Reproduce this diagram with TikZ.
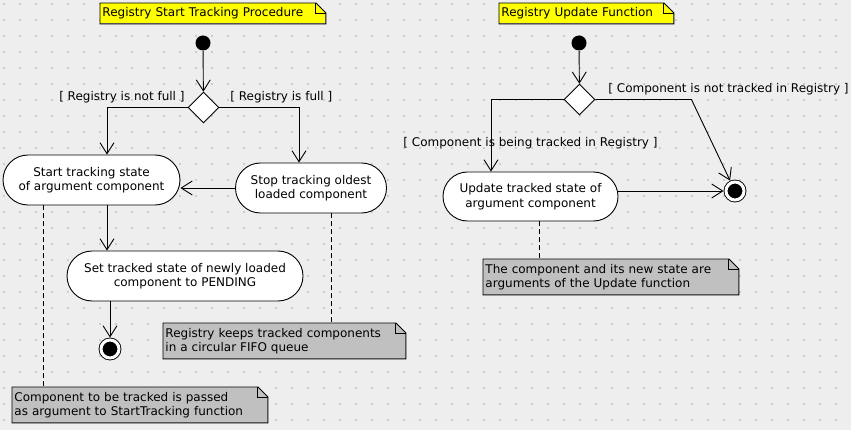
\documentclass[tikz,border=0pt]{standalone}
\usepackage{fontspec}
\setmainfont{DejaVu Sans}
\usetikzlibrary{shapes.geometric, shapes.misc, arrows.meta}

\definecolor{bggray}{HTML}{EEEEEE}
\definecolor{dotgray}{HTML}{CCCCCC}
\definecolor{noteyellow}{HTML}{FFFF00}
\definecolor{notegray}{HTML}{C0C0C0}

\tikzset{
  action/.style={rounded rectangle, draw, fill=white, align=center, inner sep=0pt},
  decision/.style={diamond, draw, fill=white, minimum width=31pt, minimum height=31pt, inner sep=0pt},
  initial/.style={circle, fill=black, minimum size=15pt, inner sep=0pt},
  final/.style={circle, draw, fill=black, double=white, double distance=3pt, minimum size=18pt, inner sep=0pt, outer sep=2.5pt},
  guard/.style={inner sep=0pt},
  note/.style={fill=#1, anchor=north west, align=left, inner sep=2pt, minimum height=35pt},
  link/.style={dashed, dash pattern=on 5pt off 3pt},
}

\begin{document}
\begin{tikzpicture}[x=1pt, y=-1pt, line width=0.9pt, >={Straight Barb[length=11pt, width=14pt]},
  every node/.style={font=\fontsize{12}{14.5}\selectfont}]

  % background with dot grid
  \fill[bggray] (0,0) rectangle (851,430);
  \foreach \i in {0,...,52}
    \foreach \j in {0,...,26}
      \fill[dotgray] (3+16*\i,3+16*\j) rectangle ++(2,2);

  % Start tracking procedure
  \node[note=noteyellow, minimum height=20pt, text width=221pt] (title1) at (100,3) {Registry Start Tracking Procedure};
  \node[initial] (start1) at (203,43) {};
  \node[decision] (dec1) at (203.5,107.5) {};
  \node[action, minimum width=177pt, minimum height=50pt] (track) at (91.5,180) {Start tracking state\\of argument component};
  \node[action, minimum width=151pt, minimum height=50pt] (stop) at (311,188) {Stop tracking oldest\\loaded component};
  \node[action, minimum width=236pt, minimum height=50pt] (set) at (185,276) {Set tracked state of newly loaded\\component to PENDING};
  \node[final] (final1) at (110,349) {};
  \node[note=notegray, text width=238pt] (note2) at (163,323) {Registry keeps tracked components\\in a circular FIFO queue};
  \node[note=notegray, text width=251pt] (note1) at (12,387) {Component to be tracked is passed\\as argument to StartTracking function};

  % guards
  \node[guard, anchor=east] (gnotfull) at (185,97) {[ Registry is not full ]};
  \node[guard, anchor=west] (gfull) at (230,97) {[ Registry is full ]};

  \draw[->] (start1) -- (dec1);
  \draw[->] (dec1.west) -| ([xshift=15.5pt]track.north);
  \draw[->] (dec1.east) -| ([xshift=-12pt]stop.north);
  \draw[->] (stop.west) -- (track.east |- stop.west);
  \draw[->] ([xshift=15.5pt]track.south) -- ([xshift=15.5pt]track.south |- set.north);
  \draw[->] (final1 |- set.south) -- (final1);
  \draw[link] ([xshift=20pt]stop.south) -- ([xshift=20pt]stop.south |- note2.north);
  \draw[link] ([xshift=-48.5pt]track.south) -- ([xshift=-48.5pt]track.south |- note1.north);

  % Update function
  \node[note=noteyellow, minimum height=20pt, text width=170pt] (title2) at (499,3) {Registry Update Function};
  \node[initial] (start2) at (579,43) {};
  \node[decision] (dec2) at (579.5,99.5) {};
  \node[action, minimum width=175pt, minimum height=49pt] (update) at (530.5,196.5) {Update tracked state of\\argument component};
  \node[final] (final2) at (735,191) {};
  \node[note=notegray, text width=251pt] (note3) at (483,259) {The component and its new state are\\arguments of the Update function};

  % guards
  \node[guard, anchor=west] (gnottracked) at (608,89) {[ Component is not tracked in Registry ]};
  \node[guard, anchor=west] (gtracked) at (403,143) {[ Component is being tracked in Registry ]};

  \draw[->] (start2) -- (dec2);
  \draw[->] (dec2.west) -| ([xshift=-39.5pt]update.north);
  \draw[->] (dec2.east) -- ++(96,0) -- (final2);
  \draw[->] (final2 -| update.east) -- (final2);
  \draw[link] ([xshift=8.5pt]update.south) -- ([xshift=8.5pt]update.south |- note3.north);

  % folded corners of the notes
  \foreach \n in {title1, title2, note1, note2, note3} {
    \fill[bggray] ([xshift=-10pt]\n.north east) -- (\n.north east) -- ([yshift=-10pt]\n.north east) -- cycle;
    \draw ([xshift=-10pt]\n.north east) -- ([yshift=-10pt]\n.north east) -- (\n.south east)
      -- (\n.south west) -- (\n.north west) -- cycle;
    \draw ([xshift=-10pt]\n.north east) |- ([yshift=-10pt]\n.north east);
  }

\end{tikzpicture}
\end{document}
